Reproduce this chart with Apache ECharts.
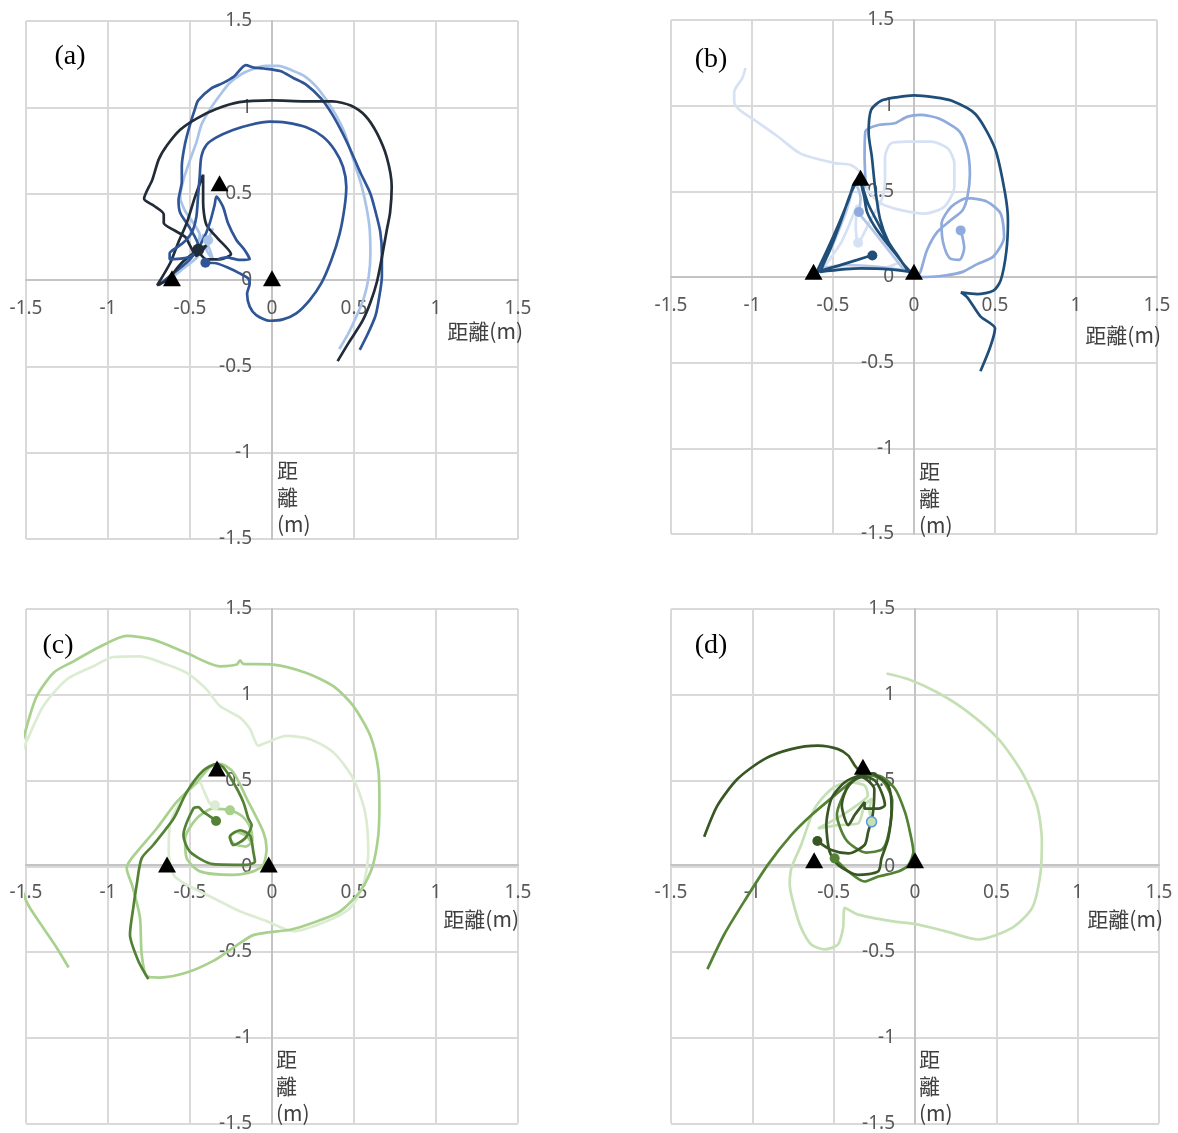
<!DOCTYPE html>
<html>
<head>
<meta charset="utf-8">
<script src="https://cdn.jsdelivr.net/npm/echarts@6/dist/echarts.min.js"></script>
<style>
  html, body { margin: 0; padding: 0; background: #fff; }
  #chart { width: 1178px; height: 1133px; }
</style>
</head>
<body>
<div id="chart"></div>
<script>
// Axis range shared by all four panels (metres)
const tickValues = [-1.5, -1, -0.5, 0, 0.5, 1, 1.5];
const panelLabels = ['(a)', '(b)', '(c)', '(d)'];
const axisName = '距離(m)';
const axisNameVertical = '距\n離\n(m)';

// Panel (a): reference points and walking tracks
const anchorsA = [[-0.61, 0.01], [0, 0.01], [-0.32, 0.56]];
const trackA1 = [[-0.45,0.17],[-0.40,0.12],[-0.32,0.12],[-0.25,0.15],[-0.33,0.24],[-0.40,0.32],[-0.42,0.45],[-0.42,0.61],[-0.47,0.48],[-0.52,0.33],[-0.57,0.22],[-0.62,0.10],[-0.70,-0.03],[-0.64,0.0],[-0.55,0.1],[-0.47,0.16],[-0.40,0.2],[-0.46,0.14],[-0.50,0.2],[-0.53,0.25],[-0.60,0.29],[-0.66,0.33],[-0.66,0.38],[-0.72,0.43],[-0.78,0.47],[-0.73,0.58],[-0.69,0.70],[-0.64,0.78],[-0.56,0.87],[-0.46,0.935],[-0.34,0.99],[-0.20,1.03],[0.0,1.04],[0.2,1.035],[0.37,1.035],[0.48,1.01],[0.57,0.95],[0.64,0.85],[0.70,0.71],[0.73,0.54],[0.72,0.39],[0.70,0.29],[0.67,0.13],[0.64,-0.01],[0.60,-0.13],[0.55,-0.24],[0.47,-0.36],[0.40,-0.47]];
const trackA2 = [[-0.69,-0.03],[-0.6,0.04],[-0.5,0.12],[-0.45,0.2],[-0.5,0.3],[-0.56,0.39],[-0.57,0.46],[-0.55,0.57],[-0.55,0.66],[-0.53,0.79],[-0.50,0.90],[-0.47,0.99],[-0.45,1.04],[-0.37,1.11],[-0.30,1.14],[-0.23,1.18],[-0.16,1.245],[-0.11,1.23],[-0.05,1.225],[0.05,1.21],[0.13,1.17],[0.21,1.13],[0.30,1.05],[0.37,0.955],[0.43,0.85],[0.48,0.75],[0.54,0.62],[0.60,0.50],[0.63,0.40],[0.66,0.28],[0.67,0.15],[0.67,0.02],[0.65,-0.12],[0.63,-0.21],[0.585,-0.31],[0.535,-0.405]];
const trackA3 = [[-0.41,0.10],[-0.34,0.097],[-0.26,0.068],[-0.20,0.04],[-0.146,0.01],[-0.136,-0.02],[-0.152,-0.08],[-0.136,-0.154],[-0.096,-0.203],[-0.014,-0.236],[0.067,-0.228],[0.148,-0.193],[0.23,-0.116],[0.30,-0.02],[0.362,0.116],[0.413,0.27],[0.443,0.425],[0.453,0.54],[0.433,0.656],[0.382,0.753],[0.311,0.83],[0.209,0.884],[0.087,0.911],[-0.014,0.917],[-0.136,0.898],[-0.238,0.869],[-0.339,0.826],[-0.40,0.782],[-0.431,0.714],[-0.441,0.598],[-0.451,0.483],[-0.461,0.367],[-0.482,0.29],[-0.522,0.232],[-0.573,0.193],[-0.624,0.154],[-0.624,0.12],[-0.543,0.125],[-0.482,0.145],[-0.421,0.232],[-0.38,0.328],[-0.35,0.434],[-0.339,0.483],[-0.299,0.425],[-0.268,0.328],[-0.217,0.232],[-0.167,0.174],[-0.136,0.12],[-0.197,0.116],[-0.278,0.131],[-0.33,0.12]];
const trackA4 = [[-0.39,0.23],[-0.36,0.3],[-0.40,0.18],[-0.36,0.12],[-0.42,0.26],[-0.45,0.14],[-0.55,0.06],[-0.63,0.0],[-0.55,0.09],[-0.47,0.18],[-0.44,0.26],[-0.48,0.33],[-0.53,0.4],[-0.56,0.48],[-0.54,0.58],[-0.50,0.695],[-0.46,0.8],[-0.43,0.9],[-0.37,1.0],[-0.31,1.08],[-0.26,1.14],[-0.19,1.19],[-0.12,1.22],[-0.04,1.24],[0.04,1.24],[0.12,1.215],[0.20,1.18],[0.27,1.12],[0.33,1.045],[0.39,0.955],[0.44,0.86],[0.47,0.775],[0.51,0.655],[0.545,0.55],[0.575,0.425],[0.595,0.30],[0.60,0.155],[0.59,0.02],[0.56,-0.105],[0.515,-0.21],[0.465,-0.31],[0.41,-0.40]];
const startsA = [[-0.45, 0.175], [-0.406, 0.10], [-0.39, 0.23]];

// Panel (b)
const anchorsB = [[-0.62, 0.03], [0, 0.03], [-0.33, 0.58]];
const trackB1 = [[-0.25,0.13],[-0.35,0.1],[-0.47,0.065],[-0.60,0.03],[-0.53,0.17],[-0.46,0.32],[-0.40,0.46],[-0.36,0.56],[-0.33,0.55],[-0.28,0.42],[-0.22,0.31],[-0.14,0.17],[-0.06,0.07],[-0.02,0.03],[-0.15,0.045],[-0.33,0.05],[-0.58,0.03],[-0.51,0.18],[-0.45,0.33],[-0.39,0.49],[-0.34,0.57],[-0.31,0.48],[-0.29,0.38],[-0.24,0.29],[-0.17,0.2],[-0.10,0.12],[-0.04,0.04],[-0.09,0.11],[-0.16,0.21],[-0.21,0.34],[-0.24,0.52],[-0.26,0.70],[-0.28,0.84],[-0.265,0.975],[-0.2,1.03],[-0.1,1.05],[0.0,1.06],[0.12,1.05],[0.23,1.03],[0.38,0.95],[0.50,0.75],[0.56,0.50],[0.58,0.33],[0.57,0.15],[0.535,-0.02],[0.49,-0.08],[0.39,-0.10],[0.29,-0.09],[0.33,-0.12],[0.41,-0.23],[0.50,-0.30],[0.47,-0.41],[0.41,-0.55]];
const trackB2 = [[0.29,0.27],[0.31,0.17],[0.28,0.10],[0.22,0.11],[0.18,0.20],[0.17,0.31],[0.23,0.41],[0.33,0.46],[0.45,0.44],[0.535,0.37],[0.556,0.233],[0.49,0.12],[0.39,0.075],[0.30,0.03],[0.20,0.01],[0.08,0.0],[0.02,0.0],[0.04,0.03],[0.08,0.156],[0.144,0.263],[0.226,0.331],[0.30,0.39],[0.33,0.47],[0.345,0.6],[0.33,0.74],[0.28,0.85],[0.15,0.926],[0.04,0.946],[-0.04,0.936],[-0.12,0.897],[-0.22,0.887],[-0.30,0.85],[-0.305,0.7],[-0.30,0.55],[-0.32,0.5]];
const trackB3 = [[-0.34,0.38],[-0.33,0.46],[-0.36,0.54],[-0.42,0.38],[-0.52,0.15],[-0.58,0.05],[-0.42,0.07],[-0.22,0.06],[-0.06,0.04],[-0.16,0.16],[-0.26,0.28],[-0.33,0.36]];
const trackB4 = [[-1.04,1.22],[-1.06,1.16],[-1.11,1.08],[-1.11,1.02],[-1.07,0.97],[-0.96,0.90],[-0.84,0.82],[-0.70,0.72],[-0.49,0.665],[-0.39,0.654],[-0.327,0.605],[-0.286,0.508],[-0.204,0.43],[-0.08,0.39],[0.064,0.37],[0.187,0.41],[0.249,0.527],[0.249,0.663],[0.208,0.751],[0.105,0.79],[-0.039,0.79],[-0.142,0.78],[-0.179,0.70],[-0.179,0.566],[-0.2,0.45],[-0.27,0.33],[-0.345,0.2],[-0.36,0.3],[-0.35,0.42],[-0.45,0.2],[-0.55,0.06],[-0.4,0.05],[-0.2,0.05],[-0.1,0.08]];
const startsB = [[-0.257, 0.126], [0.288, 0.272], [-0.34, 0.379], [-0.345, 0.2]];

// Panel (c)
const anchorsC = [[-0.64, 0.01], [-0.02, 0.01], [-0.335, 0.57]];
const trackC1 = [[-0.754,-0.658],[-0.815,-0.552],[-0.866,-0.398],[-0.846,-0.243],[-0.825,-0.108],[-0.795,0.046],[-0.724,0.124],[-0.60,0.278],[-0.52,0.432],[-0.419,0.558],[-0.337,0.597],[-0.297,0.577],[-0.236,0.49],[-0.175,0.375],[-0.144,0.278],[-0.124,0.24],[-0.165,0.162],[-0.236,0.124],[-0.256,0.172],[-0.195,0.21],[-0.134,0.18],[-0.114,0.085],[-0.104,0.027],[-0.155,0.008],[-0.358,0.012],[-0.50,0.085],[-0.54,0.18],[-0.48,0.336],[-0.45,0.345],[-0.419,0.317],[-0.358,0.278],[-0.341,0.264]];
const trackC2 = [[-1.24,-0.59],[-1.313,-0.475],[-1.394,-0.36],[-1.5,-0.2],[-1.58,0.1],[-1.58,0.5],[-1.5,0.8],[-1.435,0.99],[-1.33,1.13],[-1.21,1.195],[-1.05,1.28],[-0.886,1.343],[-0.72,1.32],[-0.52,1.243],[-0.317,1.166],[-0.215,1.176],[-0.195,1.2],[-0.175,1.18],[0.008,1.176],[0.21,1.127],[0.374,1.05],[0.496,0.934],[0.60,0.76],[0.648,0.568],[0.655,0.375],[0.648,0.18],[0.61,-0.01],[0.537,-0.147],[0.415,-0.263],[0.25,-0.33],[0.11,-0.37],[-0.11,-0.40],[-0.236,-0.475],[-0.358,-0.552],[-0.52,-0.62],[-0.683,-0.649],[-0.764,-0.64],[-0.795,-0.51],[-0.805,-0.30],[-0.85,-0.12],[-0.886,-0.01],[-0.856,0.046],[-0.703,0.22],[-0.581,0.375],[-0.459,0.49],[-0.378,0.577],[-0.317,0.597],[-0.236,0.548],[-0.154,0.394],[-0.053,0.2],[-0.033,0.104],[-0.053,0.008],[-0.114,-0.03],[-0.236,-0.05],[-0.44,-0.03],[-0.52,0.046],[-0.53,0.16],[-0.46,0.278],[-0.36,0.336],[-0.256,0.326],[-0.18,0.29],[-0.13,0.22],[-0.12,0.15],[-0.16,0.115],[-0.23,0.13],[-0.26,0.17],[-0.22,0.2],[-0.16,0.18],[-0.12,0.13]];
const trackC3 = [[-1.6,0.5],[-1.5,0.72],[-1.394,0.934],[-1.25,1.09],[-1.09,1.166],[-0.967,1.22],[-0.805,1.224],[-0.642,1.176],[-0.52,1.127],[-0.398,1.03],[-0.317,0.934],[-0.195,0.867],[-0.134,0.80],[-0.083,0.703],[-0.033,0.722],[0.089,0.76],[0.232,0.741],[0.374,0.664],[0.496,0.51],[0.567,0.317],[0.587,0.085],[0.557,-0.108],[0.476,-0.243],[0.333,-0.32],[0.13,-0.378],[-0.033,-0.32],[-0.195,-0.263],[-0.358,-0.185],[-0.52,-0.108],[-0.60,-0.05],[-0.63,0.085],[-0.622,0.24],[-0.56,0.375],[-0.44,0.49],[-0.42,0.45],[-0.378,0.365],[-0.348,0.355]];
const startsC = [[-0.341, 0.264], [-0.256, 0.326], [-0.348, 0.355]];

// Panel (d)
const anchorsD = [[-0.62, 0.035], [0, 0.035], [-0.32, 0.58]];
const trackD1 = [[-1.296,0.172],[-1.214,0.355],[-1.09,0.51],[-0.926,0.625],[-0.761,0.683],[-0.597,0.703],[-0.473,0.683],[-0.41,0.645],[-0.37,0.587],[-0.33,0.548],[-0.257,0.539],[-0.165,0.471],[-0.144,0.336],[-0.165,0.162],[-0.206,0.046],[-0.226,-0.03],[-0.35,-0.05],[-0.473,0.008],[-0.525,0.085],[-0.545,0.24],[-0.514,0.394],[-0.432,0.49],[-0.33,0.529],[-0.247,0.5],[-0.206,0.432],[-0.185,0.355],[-0.226,0.336],[-0.31,0.336],[-0.31,0.374],[-0.37,0.3],[-0.41,0.24],[-0.45,0.355],[-0.41,0.471],[-0.33,0.52],[-0.25,0.45],[-0.26,0.3],[-0.288,0.2],[-0.31,0.124],[-0.41,0.075],[-0.514,0.095],[-0.60,0.147]];
const trackD2 = [[-1.276,-0.60],[-1.173,-0.398],[-1.05,-0.205],[-0.905,0.008],[-0.761,0.181],[-0.638,0.297],[-0.494,0.413],[-0.37,0.51],[-0.31,0.539],[-0.2,0.5],[-0.14,0.38],[-0.16,0.2],[-0.2,0.1],[-0.3,0.08],[-0.42,0.15],[-0.48,0.3],[-0.42,0.45],[-0.33,0.53],[-0.226,0.529],[-0.123,0.452],[-0.062,0.317],[-0.031,0.2],[-0.01,0.085],[-0.04,0.008],[-0.103,-0.03],[-0.226,-0.06],[-0.31,-0.089],[-0.41,-0.03],[-0.494,0.046]];
const trackD3 = [[-0.175,1.124],[-0.04,1.09],[0.144,1.01],[0.33,0.896],[0.514,0.741],[0.658,0.548],[0.75,0.355],[0.78,0.143],[0.77,-0.05],[0.72,-0.243],[0.597,-0.359],[0.39,-0.427],[0.185,-0.378],[0.02,-0.34],[-0.144,-0.32],[-0.35,-0.282],[-0.432,-0.243],[-0.442,-0.359],[-0.473,-0.456],[-0.556,-0.485],[-0.638,-0.456],[-0.70,-0.359],[-0.74,-0.243],[-0.77,-0.108],[-0.76,-0.012],[-0.70,0.124],[-0.617,0.336],[-0.514,0.45],[-0.41,0.49],[-0.31,0.471],[-0.29,0.413],[-0.33,0.374],[-0.45,0.297],[-0.597,0.22],[-0.473,0.24],[-0.35,0.25],[-0.31,0.355],[-0.267,0.394],[-0.28,0.33],[-0.267,0.259]];
const startsD = [[-0.60, 0.147], [-0.494, 0.046], [-0.267, 0.259]];

// Plot rectangles and text placement for each panel
const panels = [
  { grid: {left: 26, top: 21, width: 492, height: 518}, label: [70, 57], xName: [523, 331], yName: [277, 457],
    anchors: anchorsA,
    tracks: [
      {data: trackA4, color: '#a9c4e8'},
      {data: trackA2, color: '#2f5597'},
      {data: trackA1, color: '#222c39'},
      {data: trackA3, color: '#2f5597'}
    ],
    starts: [{p: startsA[0], color: '#222c39', size: 12}, {p: startsA[1], color: '#2f5597'}, {p: startsA[2], color: '#a9c4e8'}] },
  { grid: {left: 671, top: 20, width: 486, height: 514}, label: [711, 60], xName: [1161, 335], yName: [919, 458],
    anchors: anchorsB,
    tracks: [
      {data: trackB4, color: '#d6e1f3'},
      {data: trackB3, color: '#b4c7e7'},
      {data: trackB2, color: '#8faadc'},
      {data: trackB1, color: '#1f4e79'}
    ],
    starts: [{p: startsB[0], color: '#1f4e79'}, {p: startsB[1], color: '#8faadc'}, {p: startsB[2], color: '#8faadc'}, {p: startsB[3], color: '#d6e1f3'}] },
  { grid: {left: 26, top: 609, width: 492, height: 518}, label: [58, 646], xName: [519, 919], yName: [276, 1046],
    anchors: anchorsC,
    tracks: [
      {data: trackC3, color: '#dcecd2'},
      {data: trackC2, color: '#a9d18e'},
      {data: trackC1, color: '#548235'}
    ],
    starts: [{p: startsC[0], color: '#548235'}, {p: startsC[1], color: '#a9d18e'}, {p: startsC[2], color: '#dcecd2'}] },
  { grid: {left: 671, top: 609, width: 488, height: 518}, label: [711, 646], xName: [1163, 919], yName: [919, 1046],
    anchors: anchorsD,
    tracks: [
      {data: trackD3, color: '#c5e0b4'},
      {data: trackD2, color: '#548235'},
      {data: trackD1, color: '#385723'}
    ],
    starts: [{p: startsD[0], color: '#385723'}, {p: startsD[1], color: '#548235'}, {p: startsD[2], color: '#c5e0b4', border: '#5b9bd5'}] }
];

const numberFont = '"Noto Sans", "DejaVu Sans", sans-serif';
const cjkFont = '"Noto Sans CJK TC", "Noto Sans CJK SC", sans-serif';

// Both axes cross at the origin, which sits in the middle of each symmetric range,
// so each axis is shifted inward by half of the plot size.
function xAxisFor(p, i) {
  return Object.assign(baseAxis(i, 19), { position: 'bottom', offset: -p.grid.height / 2 });
}
function yAxisFor(p, i) {
  return Object.assign(baseAxis(i, 20), { position: 'left', offset: -p.grid.width / 2 });
}
function baseAxis(i, labelMargin) {
  return {
    gridIndex: i,
    type: 'value',
    min: tickValues[0],
    max: tickValues[tickValues.length - 1],
    interval: tickValues[1] - tickValues[0],
    axisLine: { onZero: false, lineStyle: { color: '#c4c4c4', width: 2 } },
    axisTick: { show: false },
    axisLabel: { margin: labelMargin, color: '#595959', fontSize: 19, fontFamily: numberFont },
    splitLine: { lineStyle: { color: '#d9d9d9', width: 2 } }
  };
}

const option = {
  animation: false,
  backgroundColor: '#ffffff',
  grid: panels.map(p => Object.assign({ containLabel: false }, p.grid)),
  xAxis: panels.map(xAxisFor),
  yAxis: panels.map(yAxisFor),
  series: [],
  graphic: []
};

panels.forEach((p, i) => {
  p.tracks.forEach(t => {
    option.series.push({
      type: 'line', xAxisIndex: i, yAxisIndex: i, data: t.data,
      showSymbol: false, smooth: 0.25, clip: true, silent: true, z: 2,
      lineStyle: { color: t.color, width: 2.7 }, itemStyle: { color: t.color }
    });
  });
  p.starts.forEach(s => {
    option.series.push({
      type: 'scatter', xAxisIndex: i, yAxisIndex: i, data: [s.p],
      symbol: 'circle', symbolSize: s.size || 10, silent: true, z: 4,
      itemStyle: { color: s.color, borderColor: s.border || s.color, borderWidth: s.border ? 1.5 : 0, opacity: 1 }
    });
  });
  option.series.push({
    type: 'scatter', xAxisIndex: i, yAxisIndex: i, data: p.anchors,
    symbol: 'triangle', symbolSize: [18, 16], silent: true, z: 5,
    itemStyle: { color: '#000000', opacity: 1 }
  });

  option.graphic.push(
    { type: 'text', silent: true, z: 10,
      style: { text: panelLabels[i], x: p.label[0], y: p.label[1], fill: '#000000',
               font: '28px "Liberation Serif", "DejaVu Serif", serif', align: 'center', verticalAlign: 'middle' } },
    { type: 'text', silent: true, z: 10,
      style: { text: axisName, x: p.xName[0], y: p.xName[1], fill: '#404040',
               font: '21px ' + cjkFont, align: 'right', verticalAlign: 'middle' } },
    { type: 'text', silent: true, z: 10,
      style: { text: axisNameVertical, x: p.yName[0], y: p.yName[1], fill: '#404040',
               font: '21px ' + cjkFont, lineHeight: 27, align: 'left', verticalAlign: 'top' } }
  );
});

const chart = echarts.init(document.getElementById('chart'), null, { renderer: 'canvas' });
chart.setOption(option);
</script>
</body>
</html>
